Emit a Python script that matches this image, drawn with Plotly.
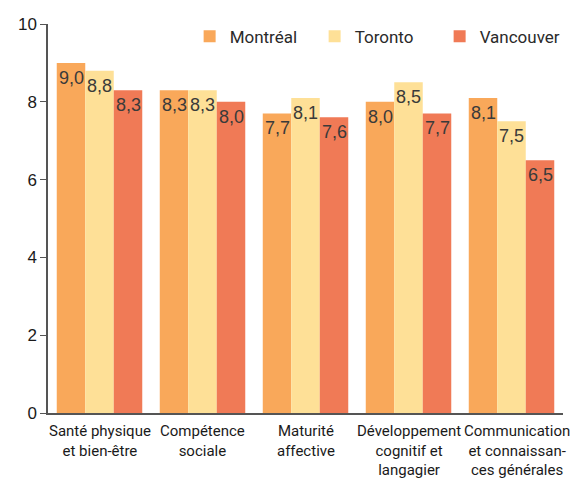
import plotly.graph_objects as go

categories = ["Santé physique<br>et bien-être", "Compétence<br>sociale", "Maturité<br>affective",
              "Développement<br>cognitif et<br>langagier", "Communication<br>et connaissan-<br>ces générales"]
series_names = ["Montréal", "Toronto", "Vancouver"]
montreal = [9.0, 8.3, 7.7, 8.0, 8.1]
toronto = [8.8, 8.3, 8.1, 8.5, 7.5]
vancouver = [8.3, 8.0, 7.6, 7.7, 6.5]
colors = ["#F9A85A", "#FEE097", "#F07A56"]
y_ticks = [0, 2, 4, 6, 8, 10]

narrow = "Roboto, sans-serif"
bargap = 0.17

fig = go.Figure()
all_series = [montreal, toronto, vancouver]
for name, vals, col in zip(series_names, all_series, colors):
    fig.add_trace(go.Bar(x=list(range(len(categories))), y=vals, name=name,
                         marker=dict(color=col, line=dict(width=0))))

w = (1 - bargap) / 3
for i, vals in enumerate(all_series):
    for j, v in enumerate(vals):
        fig.add_annotation(x=j + (i - 1) * w, y=v, xref="x", yref="y",
                           text=f"{v:.1f}".replace(".", ","), showarrow=False,
                           yanchor="top", xanchor="center", yshift=-3,
                           font=dict(family="Liberation Sans, Arial, sans-serif", size=18, color="#3a3a3a"))

# category labels (last one nudged right as in the original layout)
for j, cat in enumerate(categories):
    fig.add_annotation(x=j, y=0, xref="x", yref="y", text=cat, showarrow=False,
                       yanchor="top", xanchor="center", align="center", yshift=-7,
                       xshift=5 if j == len(categories) - 1 else 0,
                       font=dict(family=narrow, size=15, color="#1a1a1a"))

fig.update_layout(
    width=570, height=473,
    margin=dict(l=40, r=15, t=15, b=68),
    plot_bgcolor="white", paper_bgcolor="white",
    barmode="group", bargap=bargap, bargroupgap=0,
    showlegend=True,
    legend=dict(orientation="h", x=0.275, xanchor="left", y=0.965, yanchor="middle",
                font=dict(family=narrow, size=17, color="#2a2a2a"),
                entrywidth=80, entrywidthmode="pixels",
                bgcolor="rgba(0,0,0,0)", traceorder="normal", itemwidth=30),
    xaxis=dict(tickmode="array", tickvals=list(range(len(categories))),
               ticktext=["" for _ in categories],
               range=[-0.5, len(categories) - 0.5], automargin=False, tickangle=0,
               showline=True, linecolor="#555555", linewidth=1.5, ticks="",
               showgrid=False),
    yaxis=dict(range=[0, 10], tickvals=y_ticks, ticktext=[str(t) for t in y_ticks],
               automargin=False,
               showline=True, linecolor="#555555", linewidth=1.5, ticks="outside", ticklen=6,
               tickcolor="#555555", showgrid=False, zeroline=False,
               tickfont=dict(family="Liberation Sans, Arial, sans-serif", size=17, color="#1a1a1a")),
)

fig.write_html("out.html")
